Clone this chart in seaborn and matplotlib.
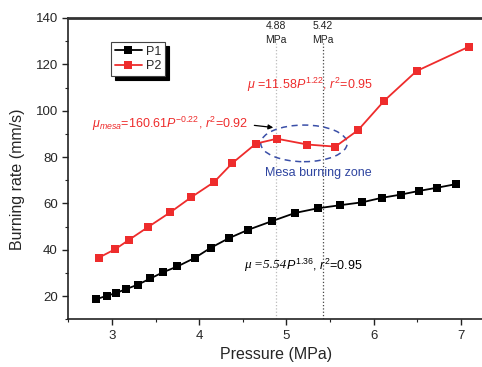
import numpy as np
import pandas as pd
import matplotlib
matplotlib.use("Agg")
import matplotlib.pyplot as plt
import seaborn as sns
from matplotlib.patches import Ellipse

# data
p1_pressure = [2.82, 2.94, 3.05, 3.16, 3.30, 3.44, 3.58, 3.75, 3.95, 4.13, 4.34, 4.56,
               4.83, 5.10, 5.36, 5.61, 5.87, 6.09, 6.31, 6.52, 6.73, 6.94]
p1_rate = [18.7, 20.1, 21.4, 23.0, 25.0, 27.6, 30.2, 32.8, 36.5, 40.8, 45.0, 48.6,
           52.3, 55.9, 57.9, 59.2, 60.5, 62.4, 63.8, 65.4, 66.8, 68.3]

p2_pressure = [2.85, 3.04, 3.20, 3.41, 3.67, 3.91, 4.17, 4.38, 4.65, 4.89, 5.24, 5.56,
               5.82, 6.12, 6.49, 7.09]
p2_rate = [36.6, 40.3, 44.4, 49.7, 56.2, 62.7, 69.2, 77.4, 85.8, 87.9, 85.4, 84.5,
           91.6, 104.3, 117.1, 127.6]

mesa_bounds = [4.88, 5.42]

df = pd.concat([
    pd.DataFrame({"Pressure": p1_pressure, "Rate": p1_rate, "Series": "P1"}),
    pd.DataFrame({"Pressure": p2_pressure, "Rate": p2_rate, "Series": "P2"}),
])

sns.set_style("white")
plt.rcParams["font.family"] = ["Liberation Sans", "DejaVu Sans"]
plt.rcParams["mathtext.fontset"] = "custom"
plt.rcParams["mathtext.it"] = "Liberation Sans:italic"
plt.rcParams["mathtext.rm"] = "Liberation Sans"

fig = plt.figure(figsize=(4.82, 3.67), dpi=100)
ax = fig.add_axes([0.1417, 0.130, 0.8583, 0.821])

red = "#ee2c2c"
palette = {"P1": "#000000", "P2": red}
sns.lineplot(data=df, x="Pressure", y="Rate", hue="Series", palette=palette,
             marker="s", markersize=5.5, markeredgewidth=0, linewidth=1.3,
             sort=False, ax=ax)

# mesa boundaries
ax.vlines(mesa_bounds[0], 10, 129, color="#bbbbbb", linestyle=":", linewidth=0.9, zorder=0)
ax.vlines(mesa_bounds[1], 10, 129, color="#444444", linestyle=":", linewidth=0.9, zorder=0)
for b in mesa_bounds:
    ax.text(b, 133.5, f"{b:.2f}\nMPa", ha="center", va="center", fontsize=7.5,
            color="#222222", linespacing=1.4)

ax.add_patch(Ellipse((5.2, 85.9), 0.99, 15.8, fill=False, edgecolor="#3a4fa8",
                     linestyle=(0, (4, 3)), linewidth=1.1))
ax.text(5.36, 73.2, "Mesa burning zone", color="#2f45a0", fontsize=9,
        ha="center", va="center")

ax.text(5.27, 111.1, r"$\mu$ =11.58$P^{1.22}$, $r^2$=0.95", color=red,
        fontsize=9, ha="center", va="center")
ax.text(3.67, 94.2, r"$\mu_{mesa}$=160.61$P^{-0.22}$, $r^2$=0.92", color=red,
        fontsize=9, ha="center", va="center")
ax.annotate("", xy=(4.88, 92.6), xytext=(4.60, 93.8),
            arrowprops=dict(arrowstyle="-|>", color="black", lw=0.9,
                            mutation_scale=7))
ax.text(5.0, 33.5, "\u03bc =5.54", color="black", fontsize=9.5,
        ha="right", va="center", family="Liberation Serif", fontstyle="italic")
ax.text(5.0, 33.5, r"$P^{1.36}$, $r^2$=0.95", color="black", fontsize=9,
        ha="left", va="center")

ax.set_xlim(2.5, 7.24)
ax.set_ylim(10, 140)
ax.set_xticks([3, 4, 5, 6, 7])
ax.set_xticks(np.arange(2.5, 7.25, 0.5), minor=True)
ax.set_yticks([20, 40, 60, 80, 100, 120, 140])
ax.set_yticks(np.arange(10, 141, 10), minor=True)
ax.tick_params(axis="both", which="major", direction="out", length=4, width=1,
               labelsize=9.5, bottom=True, left=True, color="#222222")
ax.tick_params(axis="both", which="minor", direction="out", length=2.5, width=0.8,
               bottom=True, left=True, color="#222222")
ax.set_xlabel("Pressure (MPa)", fontsize=11.5)
ax.set_ylabel("Burning rate (mm/s)", fontsize=11.5)
ax.xaxis.set_label_coords(0.501, -0.092)
ax.yaxis.set_label_coords(-0.105, 0.466)

for side in ["left", "bottom"]:
    ax.spines[side].set_color("#222222")
    ax.spines[side].set_linewidth(1.2)
ax.spines["top"].set_color("#333333")
ax.spines["top"].set_linewidth(2)
ax.spines["right"].set_visible(False)

leg = ax.legend(loc="upper left", bbox_to_anchor=(0.103, 0.92), frameon=True,
                fancybox=False, edgecolor="#444444", fontsize=9, handlelength=2.2,
                borderpad=0.3, labelspacing=0.2, handletextpad=0.3, borderaxespad=0,
                shadow={"color": "black", "alpha": 1, "ox": 3, "oy": -3})
leg.get_frame().set_linewidth(0.8)

fig.savefig("out.png", dpi=100)
